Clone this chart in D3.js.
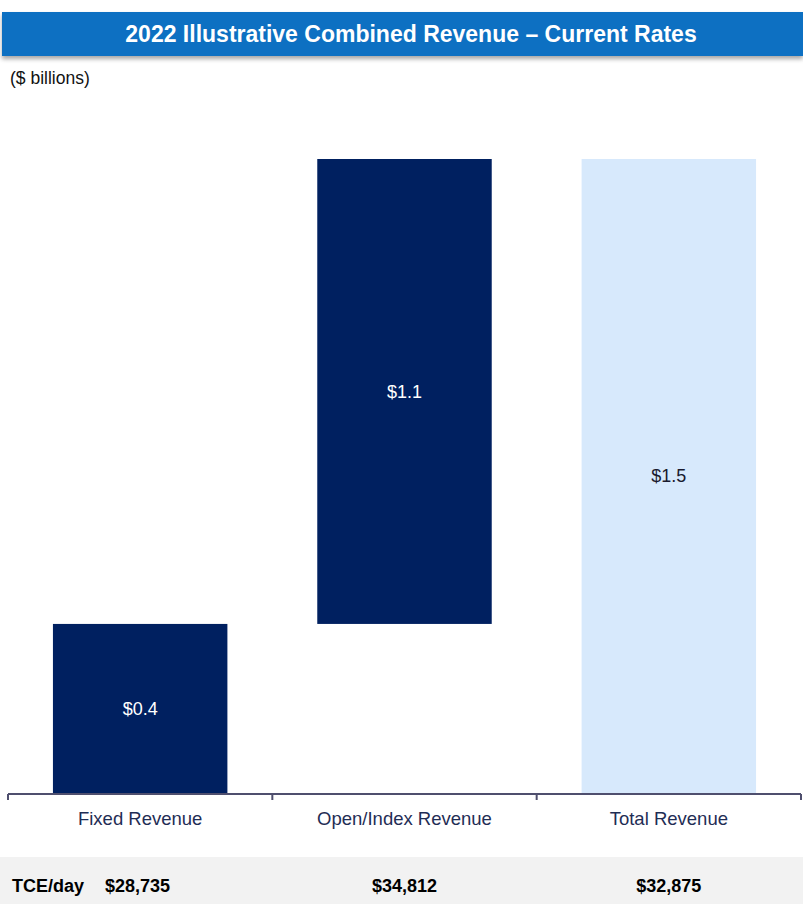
<!DOCTYPE html>
<html>
<head>
<meta charset="utf-8">
<script src="https://cdn.jsdelivr.net/npm/d3@7"></script>
<style>
  body { margin: 0; background: #fff; }
  text { font-family: "Liberation Sans", Arial, sans-serif; }
</style>
</head>
<body>
<div id="canvas"></div>
<script>
"use strict"

/* Data */
let categories = ["Fixed Revenue", "Open/Index Revenue", "Total Revenue"];
let barStart = [0, 0.4, 0];     // $ billions, bottom of each floating bar
let barValue = [0.4, 1.1, 1.5]; // $ billions
let valueLabels = ["$0.4", "$1.1", "$1.5"];
let tceLabels = ["$28,735", "$34,812", "$32,875"];

/* Drawing config */
let svgWidth = 803;
let svgHeight = 904;
let axisY = 794;

let svg = d3.select("#canvas")
    .append("svg")
    .attr("width", svgWidth)
    .attr("height", svgHeight);

// title bar with a soft shadow
let defs = svg.append("defs");
let shadow = defs.append("filter").attr("id", "shadow").attr("height", "160%");
shadow.append("feDropShadow")
    .attr("dx", 0).attr("dy", 3)
    .attr("stdDeviation", 2)
    .attr("flood-color", "#000")
    .attr("flood-opacity", 0.35);

svg.append("rect")
    .attr("x", 2)
    .attr("y", 12)
    .attr("width", svgWidth - 2)
    .attr("height", 44)
    .attr("fill", "#0A6FC2")
    .attr("filter", "url(#shadow)");

svg.append("text")
    .attr("x", 411)
    .attr("y", 42)
    .attr("text-anchor", "middle")
    .attr("fill", "#fff")
    .style("font-size", "23px")
    .style("font-weight", "bold")
    .text("2022 Illustrative Combined Revenue \u2013 Current Rates");

svg.append("text")
    .attr("x", 10)
    .attr("y", 84)
    .attr("fill", "#111")
    .style("font-size", "17.5px")
    .text("($ billions)");

/* Scales */
let xScale = d3.scaleBand()
    .domain(categories)
    .range([8, 801])
    .paddingInner(0.34)
    .paddingOuter(0.17);

let yScale = d3.scaleLinear()
    .domain([0, 1.5])
    .range([axisY - 1, 159]);

let dataset = categories.map((c, i) => ({
    name: c,
    start: barStart[i],
    value: barValue[i],
    label: valueLabels[i],
    tce: tceLabels[i],
    light: i === 2
}));

// bars
svg.selectAll("rect.bar")
    .data(dataset)
    .join("rect")
    .attr("class", "bar")
    .attr("x", d => xScale(d.name))
    .attr("width", xScale.bandwidth())
    .attr("y", d => yScale(d.start + d.value))
    .attr("height", d => yScale(d.start) - yScale(d.start + d.value))
    .attr("fill", d => d.light ? "#D7E9FC" : "#002060");

// value labels
svg.selectAll("text.value")
    .data(dataset)
    .join("text")
    .attr("class", "value")
    .attr("x", d => xScale(d.name) + xScale.bandwidth() / 2)
    .attr("y", d => (yScale(d.start) + yScale(d.start + d.value)) / 2)
    .attr("dy", "0.35em")
    .attr("text-anchor", "middle")
    .attr("fill", d => d.light ? "#1a1a2e" : "#fff")
    .style("font-size", "18px")
    .text(d => d.label);

/* Axis line with ticks between categories */
let step = xScale.step();
let tickXs = [8, 8 + step, 8 + 2 * step, 801];
svg.append("line")
    .attr("x1", 8).attr("x2", 801)
    .attr("y1", axisY).attr("y2", axisY)
    .attr("stroke", "#4F4F6E")
    .attr("stroke-width", 2);

svg.selectAll("line.tick")
    .data(tickXs)
    .join("line")
    .attr("class", "tick")
    .attr("x1", d => d).attr("x2", d => d)
    .attr("y1", axisY).attr("y2", axisY + 6)
    .attr("stroke", "#4F4F6E")
    .attr("stroke-width", 2);

// category labels
svg.selectAll("text.cat")
    .data(dataset)
    .join("text")
    .attr("class", "cat")
    .attr("x", d => xScale(d.name) + xScale.bandwidth() / 2)
    .attr("y", 825)
    .attr("text-anchor", "middle")
    .attr("fill", "#1F2D55")
    .style("font-size", "18.5px")
    .text(d => d.name);

/* TCE/day row */
svg.append("rect")
    .attr("x", 0)
    .attr("y", 857)
    .attr("width", svgWidth)
    .attr("height", svgHeight - 857)
    .attr("fill", "#F2F2F2");

svg.append("text")
    .attr("x", 12)
    .attr("y", 892)
    .attr("fill", "#000")
    .style("font-size", "18px")
    .style("font-weight", "bold")
    .text("TCE/day");

svg.selectAll("text.tce")
    .data(dataset)
    .join("text")
    .attr("class", "tce")
    .attr("x", (d, i) => i === 0 ? 105 : xScale(d.name) + xScale.bandwidth() / 2)
    .attr("y", 892)
    .attr("text-anchor", (d, i) => i === 0 ? "start" : "middle")
    .attr("fill", "#000")
    .style("font-size", "18px")
    .style("font-weight", "bold")
    .text(d => d.tce);
</script>
</body>
</html>
